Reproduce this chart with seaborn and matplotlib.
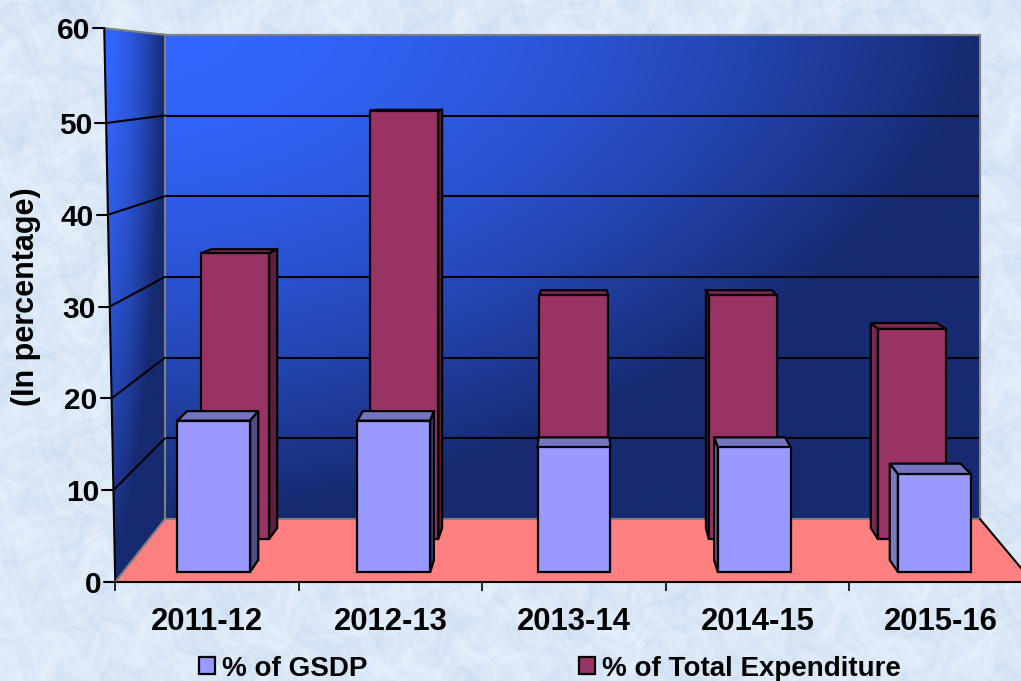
import numpy as np
import matplotlib
matplotlib.use("Agg")
import matplotlib.pyplot as plt
import seaborn as sns
from matplotlib.patches import Patch, Polygon
from matplotlib.transforms import IdentityTransform

years = ["2011-12", "2012-13", "2013-14", "2014-15", "2015-16"]
gsdp = [17, 17, 14, 14, 11]
total_exp = [34, 51, 29, 29, 25]
y_ticks = [0, 10, 20, 30, 40, 50, 60]

sns.set_theme(style="white")
plt.rcParams["font.family"] = "Liberation Sans"
plt.rcParams["font.weight"] = "bold"

W, H = 1021, 681
fig = plt.figure(figsize=(W / 100, H / 100), dpi=100)
ident = IdentityTransform()


def plane(center, spacing, base, unit, z):
    # one depth slice of the fake 3d box, x is categories and y is 0-60
    x0 = center - 2.5 * spacing
    ax = fig.add_axes([x0 / W, (H - base) / H, 5 * spacing / W, 60 * unit / H], zorder=z)
    ax.set_xlim(-0.5, 4.5)
    ax.set_ylim(0, 60)
    ax.patch.set_alpha(0)
    return ax


def gradient(nx, ny):
    u, v = np.meshgrid(np.linspace(0, 1, nx), np.linspace(0, 1, ny))
    t = np.clip(u ** 1.7 + v ** 1.7, 0, 1)[..., None]
    bright = np.array([0x33, 0x66, 0xFF]) / 255
    dark = np.array([0x17, 0x2A, 0x70]) / 255
    return bright * (1 - t) + dark * t


# page background, soft mottled blue
canvas = fig.add_axes([0, 0, 1, 1], zorder=0)
canvas.set_xlim(0, W)
canvas.set_ylim(H, 0)
canvas.axis("off")
xx, yy = np.meshgrid(np.arange(W), np.arange(H))
wx_ = xx + 28 * np.sin(yy * 0.043 + 0.7) + 17 * np.sin(yy * 0.113 + xx * 0.021)
wy_ = yy + 28 * np.sin(xx * 0.037 + 2.2) + 17 * np.sin(xx * 0.127 - yy * 0.019)
tex = (np.sin(wx_ * 0.053 + wy_ * 0.029) + np.sin(wx_ * 0.023 - wy_ * 0.071 + 1.3)
       + 0.8 * np.sin(wx_ * 0.17 + wy_ * 0.09 + 0.4) + 0.8 * np.sin(wx_ * 0.07 - wy_ * 0.21 + 2.1)
       + 0.5 * np.sin(wx_ * 0.37 + wy_ * 0.23) + 0.5 * np.sin(wx_ * 0.29 - wy_ * 0.41 + 0.9)) / 4.6
tex = tex[..., None]
bg = np.array([219, 232, 247]) / 255 + tex * np.array([15, 11, 6]) / 255
canvas.imshow(np.clip(bg, 0, 1), extent=[0, W, H, 0], aspect="auto", zorder=0)

# side wall and floor
side_pts = [(104, 28), (165, 34), (165, 519), (115, 582)]
side_img = canvas.imshow(gradient(61, 200), extent=[104, 165, 582, 28], aspect="auto", zorder=1)
side_poly = Polygon(side_pts, closed=True, transform=canvas.transData, fill=False, ec="none")
canvas.add_patch(side_poly)
side_img.set_clip_path(side_poly)
canvas.set_xlim(0, W)
canvas.set_ylim(H, 0)
canvas.add_patch(Polygon([(115, 582), (165, 519), (980, 519), (1033, 582)], closed=True,
                         fc="#FF8080", ec="none", zorder=2, clip_on=True))

# back wall
ax_wall = plane(572.5, 163, 519, 8.07, 1)
ax_wall.imshow(gradient(300, 200), extent=[-0.5, 4.5, 0, 60], aspect="auto", zorder=0)
ax_wall.set_xlim(-0.5, 4.5)
ax_wall.set_ylim(0, 60)
ax_wall.set_xticks([])
ax_wall.set_yticks([])
for s in ax_wall.spines.values():
    s.set_color("#808080")
    s.set_linewidth(1.5)
for v in y_ticks[1:-1]:
    ax_wall.axhline(v, color="black", lw=1.5, zorder=1)

# axis plane, this one carries ticks and labels
ax_axis = plane(574, 183.5, 582, 9.18, 4)
for side in ["left", "top", "right"]:
    ax_axis.spines[side].set_visible(False)
ax_axis.spines["bottom"].set_color("black")
ax_axis.spines["bottom"].set_linewidth(1.5)
ax_axis.set_xticks(range(5))
ax_axis.set_xticklabels(years, fontsize=22.3, fontweight="bold", color="black")
ax_axis.tick_params(axis="x", which="major", length=0, pad=18)
ax_axis.set_xticks(np.arange(-0.5, 4.6, 1), minor=True)
ax_axis.tick_params(axis="x", which="minor", length=6.5, width=1.2, color="black", bottom=True)
ax_axis.set_yticks([])

# tilted left axis with its ticks and the lines running back to the wall
lean = 11
top_y = None
for v in y_ticks:
    ax_, ay_ = ax_axis.transData.transform((-0.5, v))
    ax_ -= lean * v / 60
    if v == 60:
        ay_ += 3  # perspective stretches the top step a little
        top_y = ay_
    ax_axis.add_line(plt.Line2D([ax_ - 11, ax_], [ay_, ay_], color="black", lw=1.5,
                                transform=ident, clip_on=False))
    ax_axis.text(ax_ - 14, ay_, str(v), transform=ident, ha="right", va="center_baseline",
                 fontsize=21.5, fontweight="bold", color="black", clip_on=False)
    wx, wy = ax_wall.transData.transform((-0.5, v))
    if 0 < v < 60:
        ax_axis.add_line(plt.Line2D([ax_, wx], [ay_, wy], color="black", lw=1.5,
                                    transform=ident, clip_on=False))
    elif v == 60:
        ax_axis.add_line(plt.Line2D([ax_, wx], [ay_, wy], color="#808080", lw=1.5,
                                    transform=ident, clip_on=False))
a0 = ax_axis.transData.transform((-0.5, 0))
w0 = ax_wall.transData.transform((-0.5, 0))
w1 = ax_wall.transData.transform((4.5, 0))
a1 = ax_axis.transData.transform((4.5, 0))
ax_axis.add_line(plt.Line2D([a0[0], a0[0] - lean], [a0[1], top_y], color="black", lw=1.5,
                            transform=ident, clip_on=False))
ax_axis.add_line(plt.Line2D([a0[0], w0[0]], [a0[1], w0[1]], color="#808080", lw=1.5,
                            transform=ident, clip_on=False))
ax_axis.add_line(plt.Line2D([a1[0], w1[0]], [a1[1], w1[1]], color="black", lw=1.5,
                            transform=ident, clip_on=False))

ax_axis.text(26, H - 297, "(In percentage)", transform=ident, rotation=90, ha="center", va="center",
             fontsize=22, fontweight="bold", color="black", clip_on=False)


def bars_3d(values, front, back, width, back_width, face, top, right, left):
    # front faces come from seaborn, top and side faces join them to the deeper plane
    sns.barplot(x=years, y=values, color=face, saturation=1, width=width,
                edgecolor="black", linewidth=1.6, ax=front, zorder=3)
    front.set_xlim(-0.5, 4.5)
    front.set_ylim(0, 60)
    front.axis("off")
    for i, (bar, v) in enumerate(zip(front.patches, values)):
        bar.set_clip_on(False)
        fl, fb = front.transData.transform((i - width / 2, 0))
        fr, ft = front.transData.transform((i + width / 2, v))
        bl, bb = back.transData.transform((i - back_width / 2, 0))
        br, bt = back.transData.transform((i + back_width / 2, v))
        faces = [([(fl, ft), (fr, ft), (br, bt), (bl, bt)], top)]
        if br > fr:
            faces.append(([(fr, fb), (fr, ft), (br, bt), (br, bb)], right))
        if bl < fl:
            faces.append(([(fl, fb), (fl, ft), (bl, bt), (bl, bb)], left))
        for pts, col in faces:
            front.add_patch(Polygon(pts, closed=True, fc=col, ec="black", lw=1.6,
                                    transform=ident, clip_on=False, zorder=2))


back_far = plane(574, 164.9, 528, 8.2, 2)
back_far.axis("off")
ax_back = plane(573.5, 169.2, 539, 8.4, 2)
bars_3d(total_exp, ax_back, back_far, 0.402, 0.40, "#993366", "#7A2952", "#5C1F3D", "#7A2952")

front_far = plane(574, 175.6, 560, 8.76, 3)
front_far.axis("off")
ax_front = plane(574, 180.2, 572, 8.9, 3)
bars_3d(gsdp, ax_front, front_far, 0.405, 0.404, "#9999FF", "#7575BF", "#4D4D80", "#7A7AC4")

handles = [Patch(fc="#9999FF", ec="black", lw=1.6), Patch(fc="#993366", ec="black", lw=1.6)]
fig.legend(handles, ["% of GSDP", "% of Total Expenditure"], ncol=2, loc="center left",
           bbox_to_anchor=(199 / W, (H - 668.5) / H), frameon=False,
           prop={"size": 20, "weight": "bold"}, borderpad=0, borderaxespad=0,
           handlelength=0.58, handleheight=0.58, handletextpad=0.25, columnspacing=7.6,
           labelcolor="black")

fig.savefig("out.png", dpi=100)
